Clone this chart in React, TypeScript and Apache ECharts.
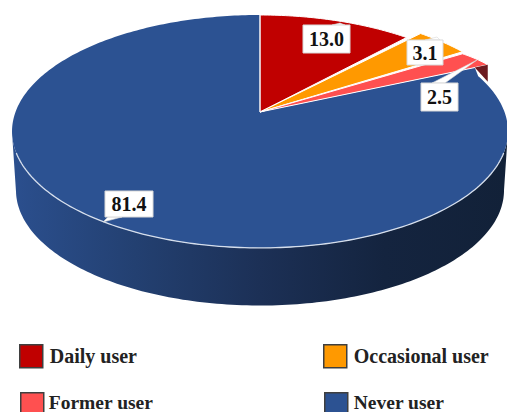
import React, { useEffect, useRef } from "react";
import * as echarts from "echarts";

const categories = ["Daily user", "Occasional user", "Former user", "Never user"];
const values = [13.0, 3.1, 2.5, 81.4];
const colors = ["#C00000", "#FF9900", "#FF5050", "#2C5292"];

// view geometry of the tilted disc
const AX = 260, AY = 112, R = 244.5, H = 113.2, K = 0.167, DEPTH = 59;
const FONT = '"Liberation Serif", serif';

const rad = (d: number) => (d * Math.PI) / 180;
// slight picture-angle correction of the 3D view
const warp = (d: number) => d - 7 * Math.sin(rad(3 * d));
const project = (deg: number): [number, number] => {
  const u = Math.sin(rad(deg)), v = Math.cos(rad(deg));
  return [AX + (R * u) / (1 + K * v), AY - (H * v) / (1 + K * v)];
};
const floor = (deg: number): [number, number] => {
  const [x, y] = project(deg);
  return [AX + (x - AX) * 0.984, AY + DEPTH + (y - AY) * 0.99];
};
const total = values.reduce((a, b) => a + b, 0);
const bounds = (i: number) => {
  const before = values.slice(0, i).reduce((a, b) => a + b, 0);
  return [warp((before / total) * 360), warp(((before + values[i]) / total) * 360)];
};
// orange and coral wedges stand proud of the rim in the picture
const rimShift: number[][][] = [
  [[0, 0], [0, 0]],
  [[14, -4], [14, -4]],
  [[14, -2], [11.5, -9.6]],
  [[0, 0], [0, 0]],
];
const rim = (i: number) => {
  const [a, b] = bounds(i);
  const n = Math.max(2, Math.ceil(b - a));
  const pts: number[][] = [];
  for (let s = 0; s <= n; s++) {
    const f = s / n;
    const p = project(a + (b - a) * f);
    const [s0, s1] = rimShift[i];
    pts.push([p[0] + s0[0] + (s1[0] - s0[0]) * f, p[1] + s0[1] + (s1[1] - s0[1]) * f]);
  }
  return pts;
};
const lerp = (a: number[], b: number[], f: number) => [a[0] + (b[0] - a[0]) * f, a[1] + (b[1] - a[1]) * f];

// label boxes: [x, y, w, h, tipBaseX1, tipBaseX2, tipBaseY, tipX, tipY]
const labelBoxes = [
  [303, 25, 47, 28, 332, 345, 25, 340, 23],
  [407, 40, 36, 25, 425, 440, 40, 437, 37],
  [421, 83, 37, 28, 432, 445, 83, 477, 60],
  [105, 191, 48, 26, 108, 122, 217, 103, 222],
];

const label = (i: number) => {
  const [x, y, w, h, b1, b2, by, tx, ty] = labelBoxes[i];
  return [
    { type: "polygon", z2: 100, shape: { points: [[b1, by], [tx, ty], [b2, by]] }, style: { fill: "#fff", stroke: "#d8d8d8", lineWidth: 0.6 } },
    { type: "rect", z2: 101, shape: { x, y, width: w, height: h }, style: { fill: "#fff", stroke: "#d8d8d8", lineWidth: 1 } },
    { type: "text", z2: 102, style: { text: values[i].toFixed(1), x: x + w / 2, y: y + h / 2, fill: "#111", font: `bold 20px ${FONT}`, textAlign: "center", textVerticalAlign: "middle" } },
  ];
};

const renderSlice = (i: number) => () => {
  const children: any[] = [];
  let pts = rim(i);
  if (i === 3) {
    const tip = rim(2).slice(-1)[0];
    pts = [lerp([AX, AY], tip, 0.943), ...pts.slice(1)];
    const top: number[][] = [], bottom: number[][] = [], edge: number[][] = [];
    for (let d = 99.6; d <= 260.4; d += 1) { top.push(project(d)); bottom.unshift(floor(d)); }
    for (let d = 110; d <= 250; d += 1) edge.push(project(d));
    children.push({
      type: "polygon", z2: 0, shape: { points: [...top, ...bottom] },
      style: {
        fill: new echarts.graphic.LinearGradient(0, 0, 1, 0, [
          { offset: 0, color: "#2B4F8E" },
          { offset: 0.25, color: "#234071" },
          { offset: 0.5, color: "#1C3056" },
          { offset: 0.75, color: "#14243F" },
          { offset: 1, color: "#122138" },
        ]),
      },
    });
    children.push({ type: "polygon", z2: 1, shape: { points: [[AX, AY], ...pts] }, style: { fill: colors[i] } });
    children.push({ type: "polyline", z2: 2, shape: { points: edge }, style: { fill: "none", stroke: "#D5DEEC", lineWidth: 1.3 } });
    children.push({ type: "polyline", z2: 6, shape: { points: [[AX, AY], [AX, 15]] }, style: { fill: "none", stroke: "#E8E4EA", lineWidth: 1.2 } });
  } else {
    children.push({
      type: "polygon", z2: 3 + i, shape: { points: [[AX, AY], ...pts] },
      style: { fill: colors[i], stroke: "#fff", lineWidth: 1, lineJoin: "round" },
    });
    if (i === 2) {
      const tip = pts[pts.length - 1];
      const low = lerp([AX, AY], tip, 0.943);
      children.push({
        type: "polygon", z2: 7,
        shape: { points: [low, tip, [tip[0], tip[1] + 17]] },
        style: { fill: "#6B1A1F" },
      });
    }
  }
  children.push(...label(i));
  return { type: "group", children };
};

const legendSpots = [
  { left: 19, top: 344 },
  { left: 323, top: 344 },
  { left: 20, top: 392 },
  { left: 324, top: 392 },
];
const legendTextGap = [2, 2, 0, 1];
const legendIconHeight = [23, 23, 20, 20];
const legendFontSize = [20, 20, 19.5, 19.5];

export default function App() {
  const ref = useRef<HTMLDivElement>(null);
  useEffect(() => {
    const chart = echarts.init(ref.current!, undefined, { renderer: "svg" });
    chart.setOption({
      animation: false,
      legend: categories.map((c, i) => ({
        data: [c],
        ...legendSpots[i],
        padding: 0,
        orient: "horizontal",
        selectedMode: false,
        icon: "rect",
        itemWidth: 23,
        itemHeight: legendIconHeight[i],
        itemStyle: { color: colors[i], borderColor: "#3F3F3F", borderWidth: 1.5 },
        textStyle: {
          fontFamily: FONT, fontWeight: "bold", fontSize: legendFontSize[i], lineHeight: 16, color: "#222",
          padding: [0, 0, 0, legendTextGap[i]],
        },
      })),
      series: categories.map((c, i) => ({
        type: "custom",
        name: c,
        coordinateSystem: "none",
        silent: true,
        itemStyle: { color: colors[i] },
        data: [[values[i]]],
        renderItem: renderSlice(i),
      })),
    });
    return () => chart.dispose();
  }, []);
  return <div ref={ref} style={{ position: "fixed", left: 0, top: 0, width: 507, height: 412, background: "#fff" }} />;
}
